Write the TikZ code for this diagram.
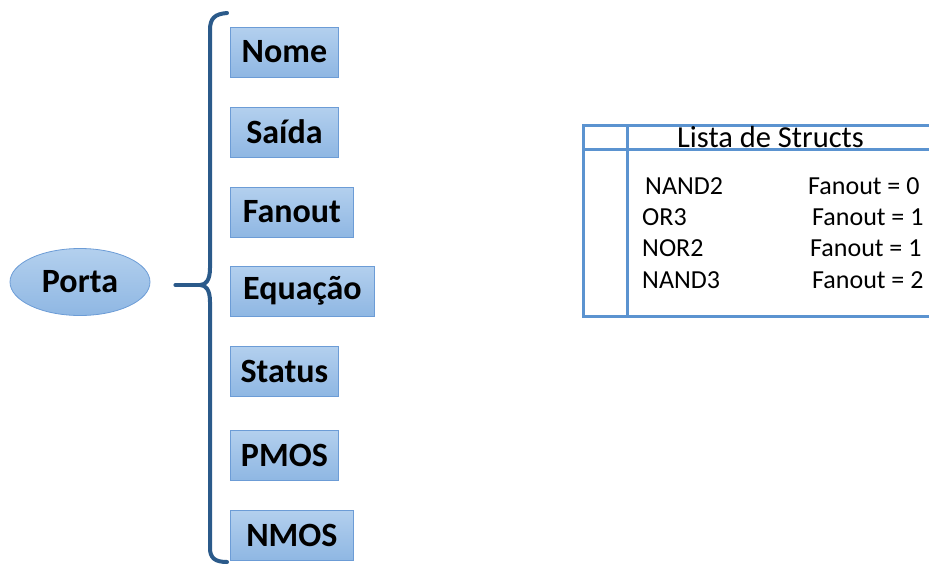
\documentclass[tikz,border=0pt]{standalone}
\usepackage{fontspec}
\setmainfont{Carlito}
\usetikzlibrary{shapes.geometric}
\definecolor{bracecol}{HTML}{2B5A8A}
\definecolor{boxtop}{HTML}{B3D0EE}
\definecolor{boxbot}{HTML}{8FB7E3}
\definecolor{boxline}{HTML}{6C9CD6}
\definecolor{tabline}{HTML}{5B93D0}
\tikzset{
  field/.style={draw=boxline, line width=0.8pt, top color=boxtop, bottom color=boxbot,
    minimum height=50pt, inner sep=0pt, anchor=west,
    font=\fontsize{34}{40}\selectfont\bfseries},
  entity/.style={ellipse, draw=boxline, line width=0.8pt, top color=boxtop, bottom color=boxbot,
    minimum width=140pt, minimum height=67pt, inner sep=0pt,
    font=\fontsize{34}{40}\selectfont\bfseries},
  brace/.style={draw=bracecol, line width=4pt, line cap=round, line join=round},
  grid/.style={draw=tabline, line width=3pt},
  cell/.style={anchor=west, inner sep=0pt, font=\fontsize{26}{30}\selectfont}
}
\begin{document}
\begin{tikzpicture}[x=1pt, y=-1pt]
\useasboundingbox (0,0) rectangle (929,565);
\clip (0,0) rectangle (929,565);

% Main entity
\node[entity] (porta) at (80,282) {Porta};

% Fields of the struct
\node[field, minimum width=108pt] (nome)    at (230,52)  {Nome};
\node[field, minimum width=108pt] (saida)   at (230,132) {Saída};
\node[field, minimum width=123pt] (fanout)  at (230,212) {Fanout};
\node[field, minimum width=144pt] (equacao) at (230,291) {Equação};
\node[field, minimum width=108pt] (status)  at (230,371) {Status};
\node[field, minimum width=108pt] (pmos)    at (230,455) {PMOS};
\node[field, minimum width=123pt] (nmos)    at (230,535) {NMOS};

% Curly brace grouping the fields
\coordinate (btop) at (227,13);
\coordinate (bbot) at (227,562);
\coordinate (btip) at (200,285);
\draw[brace] (btop) .. controls (215,14) and (210,18) .. (210,30)
  -- (210,268) .. controls (210,280) and (206,285) .. (btip)
  .. controls (206,285) and (210,290) .. (210,302)
  -- (210,548) .. controls (210,558) and (215,562) .. (bbot);
\draw[brace] (porta.east) ++(25,3) coordinate (stem) -- (btip);

% List of structs
\coordinate (tl) at (583,125);
\coordinate (br) at (940,316);
\draw[grid] (tl) rectangle (br);
\draw[grid] (627,125) -- (627,316);
\draw[grid] (583,149) -- (940,149);
\node[font=\fontsize{30.5}{34}\selectfont, inner sep=0pt] (title) at (770.5,137) {Lista de Structs};

\node[cell] (n1) at (645,186) {NAND2};
\node[cell] (f1) at (808,186) {Fanout = 0};
\node[cell] (n2) at (642,217) {OR3};
\node[cell] (f2) at (812,217) {Fanout = 1};
\node[cell] (n3) at (642,248) {NOR2};
\node[cell] (f3) at (810,248) {Fanout = 1};
\node[cell] (n4) at (642,280) {NAND3};
\node[cell] (f4) at (812,280) {Fanout = 2};
\end{tikzpicture}
\end{document}
